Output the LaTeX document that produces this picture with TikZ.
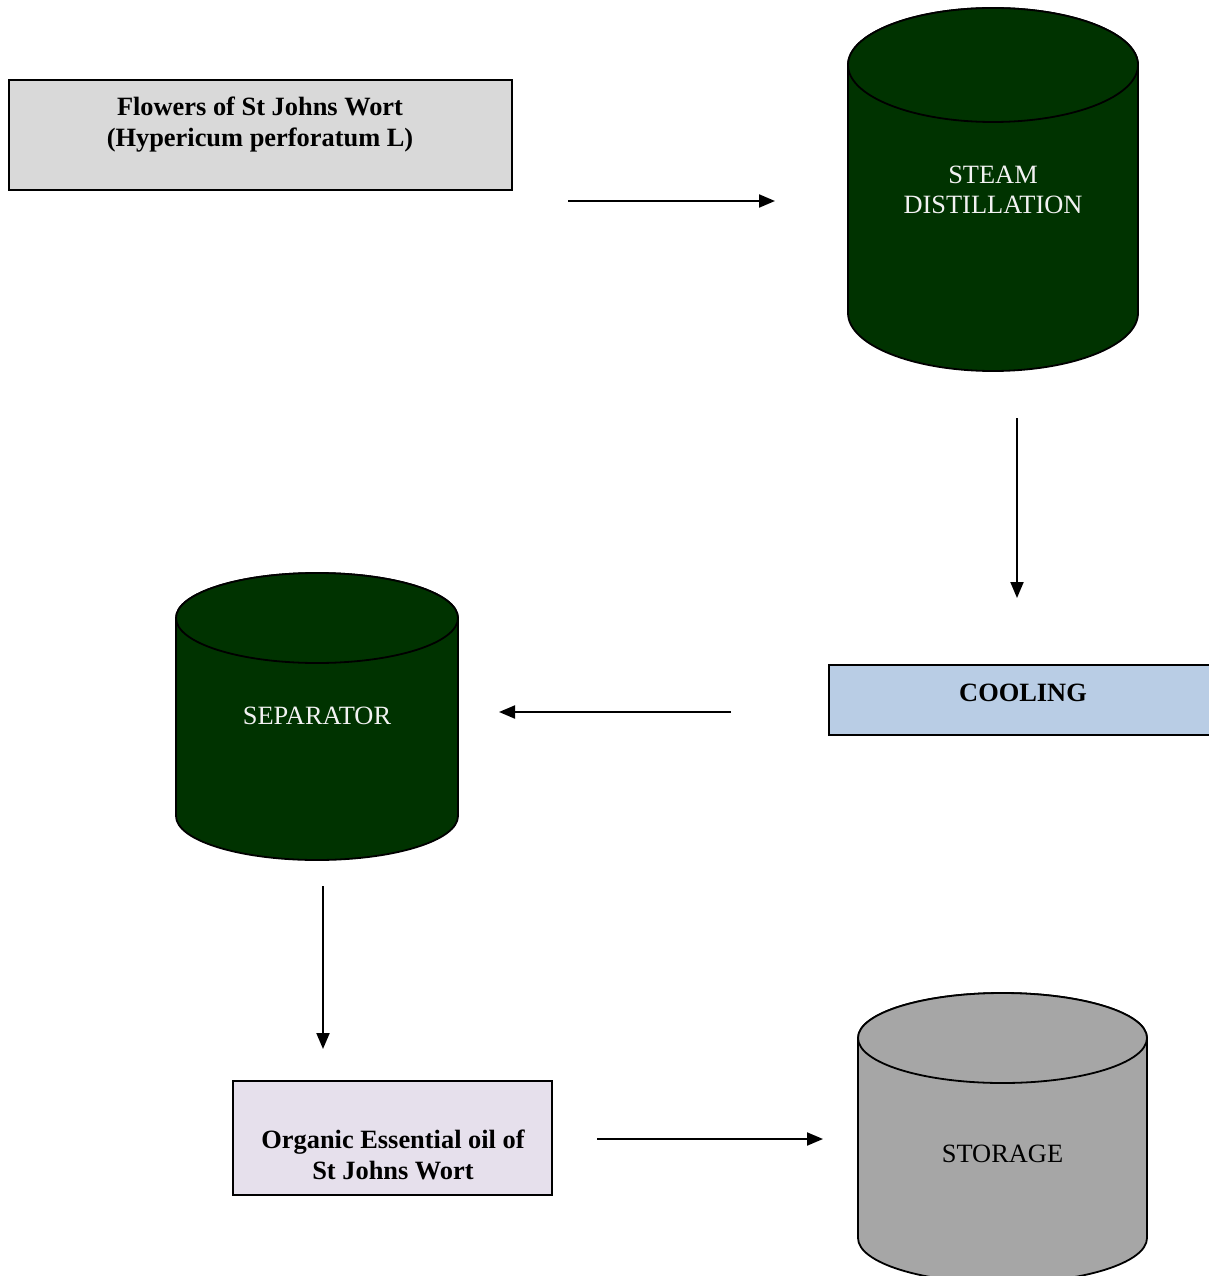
\documentclass[tikz,border=0pt]{standalone}
\usepackage{fontspec}
\setmainfont{Liberation Serif}
\usetikzlibrary{arrows.meta}
\definecolor{darkgreen}{HTML}{003300}
\definecolor{boxgrey}{HTML}{D9D9D9}
\definecolor{coolblue}{HTML}{B9CDE5}
\definecolor{oillilac}{HTML}{E6E0EC}
\definecolor{storegrey}{HTML}{A6A6A6}
\definecolor{lighttext}{HTML}{F2F2F2}
\begin{document}
\begin{tikzpicture}[x=1pt,y=1pt,
  boxshape/.style={draw=black,line width=1.8pt},
  cyl/.style={draw=black,line width=1.8pt},
  lbl/.style={font=\fontsize{26.4}{31}\selectfont,align=center,anchor=base,inner sep=0pt},
  blbl/.style={lbl,font=\fontsize{26.4}{31}\selectfont\bfseries},
  flow/.style={line width=2pt,-{Triangle[length=16pt,width=13pt]}}]
\useasboundingbox (0,0) rectangle (1209,-1276);
% Flowers box
\draw[boxshape,fill=boxgrey] (9,-80) rectangle (512,-190);
\node[blbl] (flowers) at (260,-147) {Flowers of St Johns Wort\\(Hypericum perforatum L)};
% Steam distillation cylinder
\draw[cyl,fill=darkgreen] (848,-65) -- (848,-313) arc[start angle=180,end angle=360,x radius=145,y radius=58] -- (1138,-65) arc[start angle=0,end angle=180,x radius=145,y radius=57] -- cycle;
\draw[cyl,fill=darkgreen] (993,-65) ellipse[x radius=145,y radius=57];
\node[lbl,text=lighttext] (steam) at (993,-214) {STEAM\\DISTILLATION};
% Cooling box
\draw[boxshape,fill=coolblue] (829,-665) rectangle (1220,-735);
\node[blbl] (cooling) at (1023,-701) {COOLING};
% Separator cylinder
\draw[cyl,fill=darkgreen] (176,-618) -- (176,-816) arc[start angle=180,end angle=360,x radius=141,y radius=44] -- (458,-618) arc[start angle=0,end angle=180,x radius=141,y radius=45] -- cycle;
\draw[cyl,fill=darkgreen] (317,-618) ellipse[x radius=141,y radius=45];
\node[lbl,text=lighttext] (separator) at (317,-724) {SEPARATOR};
% Organic oil box
\draw[boxshape,fill=oillilac] (233,-1081) rectangle (552,-1195);
\node[blbl] (oil) at (393,-1179) {Organic Essential oil of\\St Johns Wort};
% Storage cylinder
\draw[cyl,fill=storegrey] (858,-1038) -- (858,-1238) arc[start angle=180,end angle=360,x radius=144.5,y radius=45] -- (1147,-1038) arc[start angle=0,end angle=180,x radius=144.5,y radius=45] -- cycle;
\draw[cyl,fill=storegrey] (1002.5,-1038) ellipse[x radius=144.5,y radius=45];
\node[lbl] (storage) at (1002.5,-1162) {STORAGE};
% connector end points
\coordinate (a1s) at (568,-201);
\coordinate (a1e) at (775,-201);
\coordinate (a2s) at (1017,-418);
\coordinate (a2e) at (1017,-598);
\coordinate (a3s) at (731,-712);
\coordinate (a3e) at (499,-712);
\coordinate (a4s) at (323,-886);
\coordinate (a4e) at (323,-1049);
\coordinate (a5s) at (597,-1139);
\coordinate (a5e) at (823,-1139);
\draw[flow] (a1s) -- (a1e);
\draw[flow] (a2s) -- (a2e);
\draw[flow] (a3s) -- (a3e);
\draw[flow] (a4s) -- (a4e);
\draw[flow] (a5s) -- (a5e);
\end{tikzpicture}
\end{document}
